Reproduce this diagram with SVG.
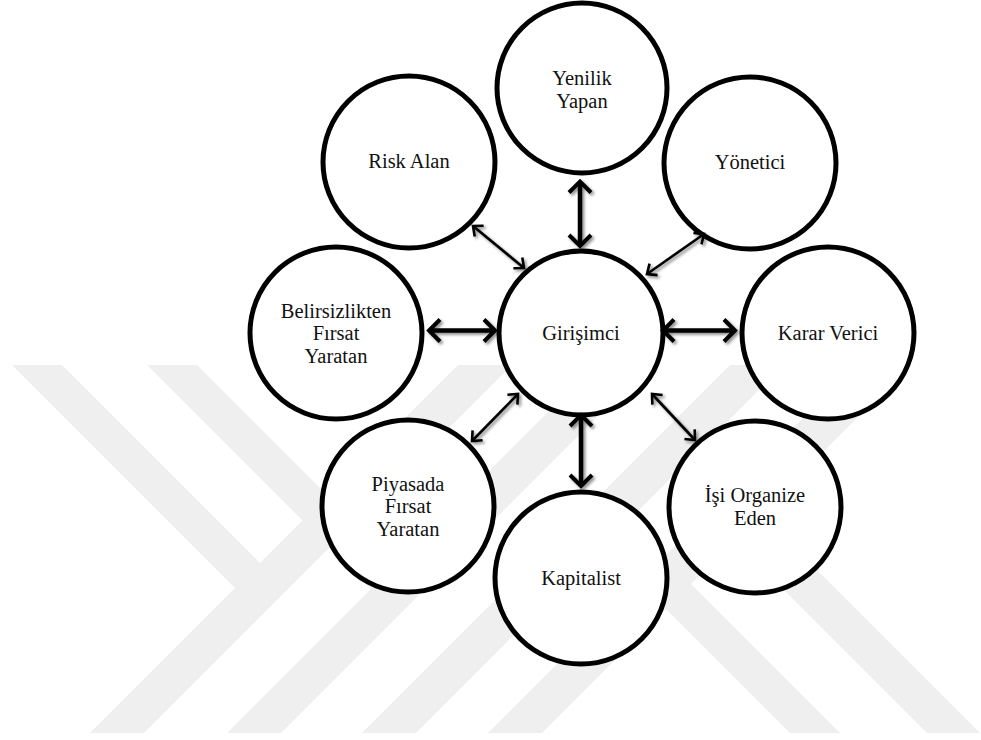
<svg xmlns="http://www.w3.org/2000/svg" width="981" height="740" viewBox="0 0 981 740">
<style>
.wm{fill:#efefef;stroke:none}
.node circle{fill:#fff;stroke:#000;stroke-width:5}
.node text{font-size:20.5px;fill:#111;text-anchor:middle}
.thick{stroke:#000;stroke-width:4.5;fill:none;marker-start:url(#hT);marker-end:url(#hT)}
.thin{stroke:#000;stroke-width:2.6;fill:none;marker-start:url(#hS);marker-end:url(#hS)}
</style>
<defs>
<filter id="sh" filterUnits="userSpaceOnUse" x="0" y="0" width="981" height="740">
<feDropShadow dx="2" dy="2" stdDeviation="1.5" flood-color="#000" flood-opacity="0.45"/>
</filter>
<marker id="hT" markerUnits="userSpaceOnUse" refX="0" refY="0" orient="auto-start-reverse" overflow="visible">
<path d="M-11,-11 L0,0 L-11,11" fill="none" stroke="#000" stroke-width="4"/>
</marker>
<marker id="hS" markerUnits="userSpaceOnUse" refX="0" refY="0" orient="auto-start-reverse" overflow="visible">
<path d="M-8,-7 L0,0 L-8,7" fill="none" stroke="#000" stroke-width="2.6"/>
</marker>
</defs>
<rect width="981" height="740" fill="#fff"/>
<g id="watermark">
<polygon class="wm" points="90,733 144,733 512,365 458,365"/>
<polygon class="wm" points="227,733 281,733 649,365 595,365"/>
<polygon class="wm" points="362,733 416,733 784,365 730,365"/>
<polygon class="wm" points="488,733 542,733 910,365 856,365"/>
<polygon class="wm" points="12,365 62,365 273.5,576.5 248.5,601.5"/>
<polygon class="wm" points="147,365 197,365 409.5,577.5 384.5,602.5"/>
<polygon class="wm" points="790,733 840,733 614.5,507.5 589.5,532.5"/>
<polygon class="wm" points="927,733 980,733 747.5,500.5 721,527"/>
</g>
<g id="nodes">
<g id="n-girisimci" class="node" font-family="Liberation Serif"><circle cx="581" cy="333" r="82"/><text x="581" y="339.5">Girişimci</text></g>
<g id="n-yenilik" class="node" font-family="Tinos"><circle cx="582" cy="88" r="85"/><text x="582" y="85">Yenilik</text><text x="582" y="107.5">Yapan</text></g>
<g id="n-risk" class="node" font-family="Times New Roman"><circle cx="409" cy="162" r="86"/><text x="409" y="168">Risk Alan</text></g>
<g id="n-yonetici" class="node" font-family="serif"><circle cx="750" cy="163" r="86"/><text x="750" y="169">Yönetici</text></g>
<g id="n-belirsiz" class="node" font-family="Liberation Serif"><circle cx="336" cy="333" r="86"/><text x="336" y="317.5">Belirsizlikten</text><text x="336" y="340">Fırsat</text><text x="336" y="362.5">Yaratan</text></g>
<g id="n-karar" class="node" font-family="Tinos"><circle cx="828" cy="333" r="86"/><text x="828" y="340">Karar Verici</text></g>
<g id="n-piyasa" class="node" font-family="Times New Roman"><circle cx="408" cy="506" r="86"/><text x="408" y="490.5">Piyasada</text><text x="408" y="513">Fırsat</text><text x="408" y="535.5">Yaratan</text></g>
<g id="n-organize" class="node" font-family="serif"><circle cx="755" cy="507" r="86"/><text x="755" y="502">İşi Organize</text><text x="755" y="524.5">Eden</text></g>
<g id="n-kapitalist" class="node" font-family="Liberation Serif"><circle cx="581" cy="578" r="86"/><text x="581" y="585">Kapitalist</text></g>
</g>
<g id="connectors" filter="url(#sh)">
<line class="thick" x1="580" y1="181.5" x2="580" y2="246"/>
<line class="thick" x1="581" y1="415" x2="581" y2="486"/>
<line class="thick" x1="429" y1="330.5" x2="495" y2="330.5"/>
<line class="thick" x1="663" y1="330.5" x2="735" y2="330.5"/>
<line class="thin" x1="473" y1="226" x2="524" y2="268"/>
<line class="thin" x1="704" y1="234" x2="647" y2="274"/>
<line class="thin" x1="472" y1="441" x2="518" y2="394"/>
<line class="thin" x1="652" y1="394" x2="695" y2="440"/>
</g>
</svg>
